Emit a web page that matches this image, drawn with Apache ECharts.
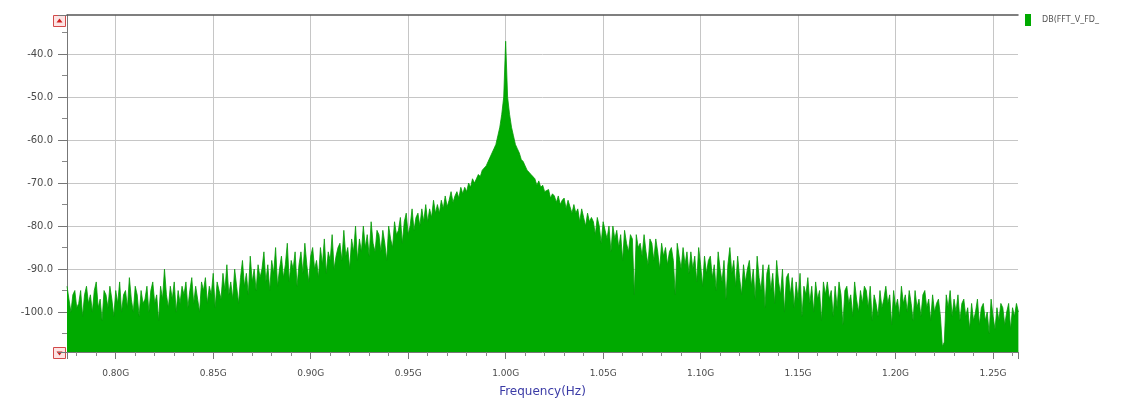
<!DOCTYPE html>
<html>
<head>
<meta charset="utf-8">
<script src="https://cdn.jsdelivr.net/npm/echarts@6/dist/echarts.min.js"></script>
<style>
  html, body { margin: 0; padding: 0; background: #ffffff; }
  #chart { width: 1136px; height: 403px; }
</style>
</head>
<body>
<div id="chart"></div>
<script>
// FFT bins: uniform spacing starting at binStartGHz
const binStartGHz = 0.775;
const binStepGHz = 0.001;

// Spectrum magnitude per bin, dB
const magnitudeDb = [
  -94, -97, -100, -96, -95, -99, -98, -95, -101, -96,
  -94, -98, -96, -100, -95, -93, -99, -97, -102, -95,
  -96, -99, -94, -97, -101, -95, -98, -93, -100, -96,
  -95, -99, -92, -97, -100, -94, -96, -101, -95, -98,
  -97, -94, -100, -95, -93, -98, -96, -102, -94, -97,
  -90, -96, -99, -94, -97, -93, -100, -95, -98, -94,
  -96, -93, -99, -95, -92, -98, -94, -97, -100, -93,
  -95, -92, -98, -94, -96, -91, -99, -93, -95, -97,
  -91, -95, -89, -96, -93, -97, -90, -94, -98, -92,
  -88, -94, -91, -96, -87, -93, -90, -95, -89, -92,
  -90, -86, -93, -89, -95, -88, -91, -85, -94, -90,
  -87, -92, -89, -84, -93, -88, -90, -86, -94, -89,
  -86, -91, -84, -89, -93, -87, -85, -90, -88, -92,
  -85, -89, -83, -91, -86, -88, -82, -90, -87, -85,
  -84, -88, -81, -87, -85, -90, -83, -86, -80, -88,
  -83, -86, -80, -85, -82, -87, -79, -84, -86, -81,
  -82, -86, -81, -84, -88, -80, -83, -85, -79, -82,
  -81, -78, -84, -79, -77, -82, -80, -76, -81, -78,
  -77, -80, -76, -79, -75, -79, -76, -78, -74, -77,
  -75, -77, -74, -76, -73, -75.5, -74, -72, -74.5, -73,
  -72, -73.5, -71, -72.5, -71, -72, -70, -71, -69, -70,
  -69, -68, -68.5, -67, -66.5, -66, -65, -64, -63, -62,
  -61, -59, -57, -54, -50, -37, -50, -54, -57, -59,
  -61, -62, -63, -64.5, -65, -66, -67, -67.5, -68, -68.5,
  -69, -70.5, -69.5, -71, -70.5, -72, -72, -71.5, -73.5, -72.5,
  -73, -74.5, -73, -75, -74, -73.5, -76, -74, -75.5, -77,
  -75, -77, -76, -79, -76, -78, -80, -77, -79, -78,
  -79, -82, -78, -80, -84, -79, -81, -83, -80, -86,
  -80, -83, -81, -85, -82, -88, -81, -84, -86, -82,
  -83, -96, -82, -85, -84, -87, -82, -86, -89, -83,
  -84, -88, -83, -86, -90, -84, -87, -85, -89, -86,
  -85, -88, -96, -84, -87, -90, -85, -89, -86, -91,
  -86, -90, -87, -93, -85, -89, -94, -87, -91, -88,
  -87, -92, -89, -95, -86, -90, -93, -88, -97, -89,
  -85, -91, -88, -94, -87, -92, -96, -89, -93, -90,
  -88, -94, -90, -97, -87, -92, -95, -89, -99, -91,
  -89, -95, -91, -98, -88, -93, -96, -90, -100, -92,
  -91, -96, -92, -99, -93, -97, -91, -101, -94, -96,
  -92, -98, -94, -100, -93, -97, -95, -102, -93, -96,
  -93, -97, -95, -101, -94, -99, -93, -96, -103, -95,
  -94, -98, -96, -101, -93, -97, -100, -95, -98, -94,
  -95, -99, -94, -102, -96, -98, -101, -95, -99, -97,
  -94, -98, -96, -103, -95, -99, -97, -101, -94, -98,
  -96, -100, -95, -98, -102, -95, -99, -97, -101, -96,
  -95, -99, -97, -102, -96, -100, -98, -97, -101, -108,
  -107, -96, -99, -95, -101, -97, -100, -96, -102, -98,
  -97, -101, -99, -104, -98, -102, -100, -97, -103, -99,
  -98, -102, -100, -105, -97, -101, -104, -99, -102, -98,
  -99, -103, -100, -98, -104, -99, -101, -98, -100
];

// Labelled ticks
const xTickValuesGHz = [0.80, 0.85, 0.90, 0.95, 1.00, 1.05, 1.10, 1.15, 1.20, 1.25];
const yTickValuesDb = [-100, -90, -80, -70, -60, -50, -40];

const seriesName = 'DB(FFT_V_FD_';
const xAxisName = 'Frequency(Hz)';

const spectrum = magnitudeDb.map((v, i) => [binStartGHz + i * binStepGHz, v]);

function isTick(v, list) {
  return list.some(t => Math.abs(t - v) < 1e-6);
}

const chart = echarts.init(document.getElementById('chart'), null, { renderer: 'canvas' });

const axisFont = { fontFamily: 'DejaVu Sans', color: '#4a4a4a' };

chart.setOption({
  animation: false,
  backgroundColor: '#ffffff',
  grid: { left: 67, right: 118, top: 15, bottom: 44, containLabel: false },
  legend: {
    show: true,
    left: 1020,
    top: 9,
    icon: 'rect',
    itemWidth: 6,
    itemHeight: 12,
    textStyle: { fontFamily: 'DejaVu Sans', fontSize: 8, color: '#555', padding: [0, 0, 0, 6] },
    data: [seriesName]
  },
  xAxis: [
    {
      type: 'value',
      min: 0.775,
      max: 1.2628,
      splitNumber: 10,
      minInterval: 0.05,
      maxInterval: 0.05,
      name: xAxisName,
      nameLocation: 'middle',
      nameGap: 34,
      nameTextStyle: { fontFamily: 'DejaVu Sans', fontSize: 12, color: '#3b3ba6' },
      axisLine: { show: true, onZero: false, lineStyle: { color: '#777', width: 1 } },
      axisTick: { show: true, length: 7, lineStyle: { color: '#777' } },
      minorTick: { show: true, splitNumber: 5, length: 4, lineStyle: { color: '#888' } },
      axisLabel: {
        ...axisFont,
        fontSize: 9,
        margin: 17,
        formatter: v => isTick(v, xTickValuesGHz) ? v.toFixed(2) + 'G' : ''
      },
      splitLine: { show: true, showMinLine: false, showMaxLine: false, lineStyle: { color: '#c6c6c6', width: 1 } }
    },
    {
      // top frame line
      type: 'value',
      position: 'top',
      min: 0.775,
      max: 1.2628,
      axisLine: { show: true, onZero: false, lineStyle: { color: '#555', width: 1.5 } },
      axisTick: { show: false },
      axisLabel: { show: false },
      splitLine: { show: false }
    }
  ],
  yAxis: {
    type: 'value',
    min: -109.3,
    max: -30.9,
    splitNumber: 8,
    minInterval: 10,
    maxInterval: 10,
    axisLine: { show: true, onZero: false, lineStyle: { color: '#777', width: 1 } },
    axisTick: { show: true, length: 9, lineStyle: { color: '#777' } },
    minorTick: { show: true, splitNumber: 2, length: 5, lineStyle: { color: '#888' } },
    axisLabel: {
      ...axisFont,
      fontSize: 10,
      margin: 14,
      formatter: v => isTick(v, yTickValuesDb) ? v.toFixed(1) : ''
    },
    splitLine: { show: true, showMinLine: false, showMaxLine: false, lineStyle: { color: '#c6c6c6', width: 1 } }
  },
  graphic: [
    {
      type: 'group', left: 53, top: 15,
      children: [
        { type: 'rect', shape: { x: 0, y: 0, width: 12, height: 11 }, style: { fill: '#fde4e4', stroke: '#d24a4a', lineWidth: 1 } },
        { type: 'polygon', shape: { points: [[3, 7], [9, 7], [6, 3]] }, style: { fill: '#d02020' } }
      ]
    },
    {
      type: 'group', left: 53, top: 347,
      children: [
        { type: 'rect', shape: { x: 0, y: 0, width: 12, height: 11 }, style: { fill: '#fde4e4', stroke: '#d24a4a', lineWidth: 1 } },
        { type: 'polygon', shape: { points: [[3, 4], [9, 4], [6, 8]] }, style: { fill: '#d02020' } }
      ]
    }
  ],
  series: [
    {
      name: seriesName,
      type: 'line',
      data: spectrum,
      showSymbol: false,
      symbol: 'none',
      color: '#00aa00',
      lineStyle: { color: '#079a07', width: 0.8 },
      areaStyle: { color: '#00aa00', opacity: 1, origin: 'start' },
      z: 3
    }
  ]
});
</script>
</body>
</html>
